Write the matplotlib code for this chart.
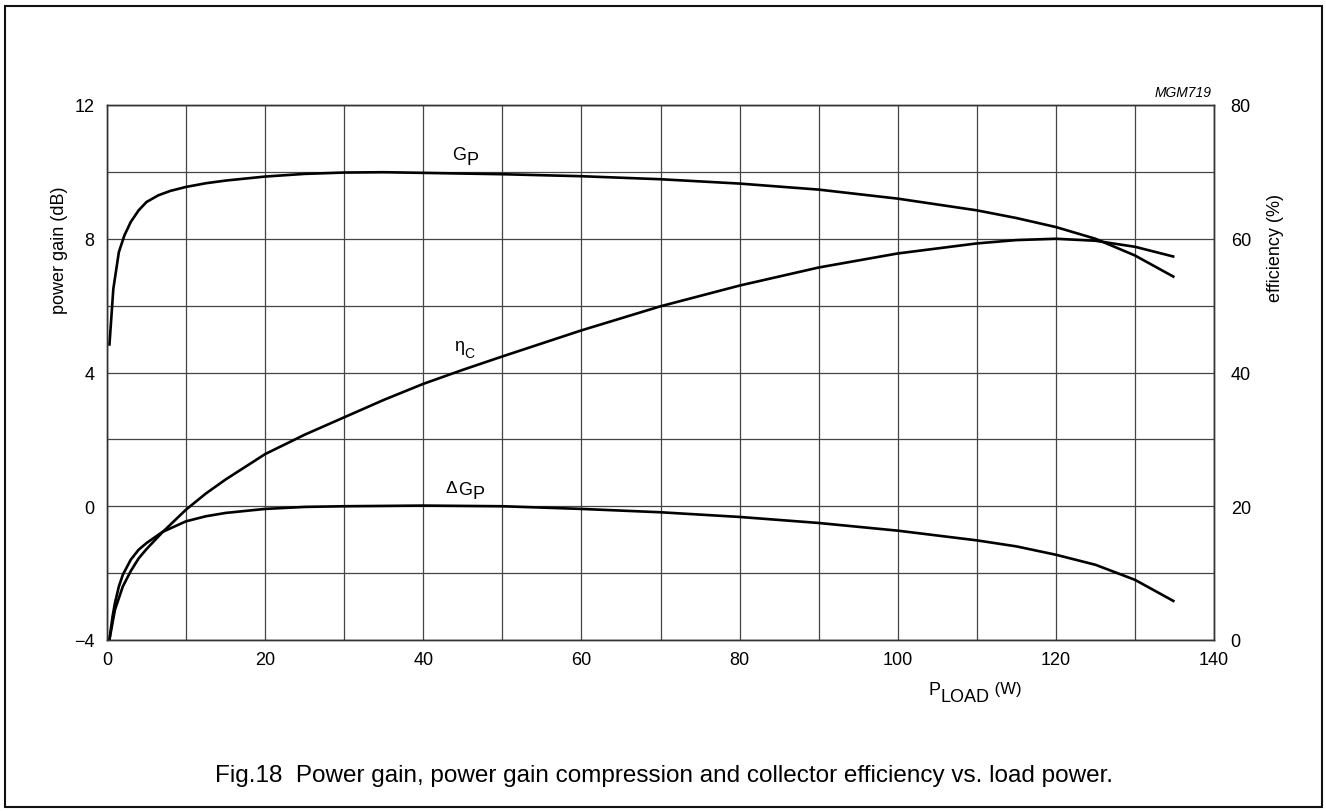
import matplotlib
matplotlib.use('Agg')
import matplotlib.pyplot as plt
from matplotlib.patches import Rectangle
from matplotlib.ticker import MultipleLocator
from matplotlib.transforms import IdentityTransform

plt.rcParams['font.family'] = ['Liberation Sans', 'DejaVu Sans']

# load power (W) and read-off values
p_gain = [0.3, 0.8, 1.5, 2.2, 3, 4, 5, 6.5, 8, 10, 12.5, 15, 20, 25, 30, 35, 40, 50, 60, 70,
          80, 90, 100, 110, 115, 120, 125, 130, 135]
gain_db = [4.8, 6.5, 7.6, 8.1, 8.5, 8.85, 9.1, 9.3, 9.43, 9.55, 9.66, 9.74, 9.86, 9.94, 9.98, 9.99,
           9.97, 9.93, 9.87, 9.78, 9.65, 9.47, 9.2, 8.85, 8.62, 8.35, 8.0, 7.5, 6.85]

p_eff = [0.3, 1, 2, 3, 4, 5, 7, 8.5, 10, 12.5, 15, 20, 25, 30, 35, 40, 45, 50, 60, 70, 80,
         90, 100, 110, 115, 120, 125, 130, 135]
eff_pct = [0, 4.5, 8.0, 10.3, 12.2, 13.6, 16.1, 17.8, 19.5, 21.9, 24.0, 27.8, 30.7, 33.3, 35.9,
           38.3, 40.4, 42.4, 46.3, 49.9, 53.0, 55.7, 57.8, 59.3, 59.8, 60.0, 59.7, 58.8, 57.3]

p_comp = [0.3, 0.7, 1, 1.5, 2, 3, 4, 5, 7, 10, 12.5, 15, 20, 25, 30, 40, 50, 60, 70, 80,
          90, 100, 110, 115, 120, 125, 130, 135]
comp_db = [-4.0, -3.3, -2.9, -2.4, -2.05, -1.6, -1.3, -1.1, -0.77, -0.45, -0.3, -0.2, -0.08,
           -0.02, 0.0, 0.02, 0.0, -0.08, -0.18, -0.32, -0.5, -0.73, -1.02, -1.2, -1.45, -1.75,
           -2.2, -2.85]

W, H = 1326, 812
fig = plt.figure(figsize=(W / 100, H / 100), dpi=100)
fig.patches.append(Rectangle((4.5 / W, 4.5 / H), 1317 / W, 801 / H, transform=fig.transFigure,
                             fill=False, ec='#111111', lw=1.5))

ax = fig.add_axes([107 / W, 1 - 641 / H, 1107 / W, 535 / H])
ax2 = ax.twinx()
ax.set_xlim(0, 140); ax.set_ylim(-4, 12); ax2.set_ylim(0, 80)
ax.xaxis.set_major_locator(MultipleLocator(20)); ax.xaxis.set_minor_locator(MultipleLocator(10))
ax.yaxis.set_major_locator(MultipleLocator(4)); ax.yaxis.set_minor_locator(MultipleLocator(2))
ax2.yaxis.set_major_locator(MultipleLocator(20))
ax.grid(True, which='both', color='#444444', lw=0.9)
ax.set_yticklabels(['\u22124' if t < 0 else str(int(t)) for t in ax.get_yticks()])
ax.tick_params(which='both', length=0, labelsize=13)
ax.tick_params(axis='x', pad=8)
ax.tick_params(axis='y', pad=9)
ax2.tick_params(length=0, labelsize=13, pad=12)
for a in (ax, ax2):
    for s in a.spines.values():
        s.set_color('#333333'); s.set_linewidth(1.0)

ax.plot(p_gain, gain_db, color='black', lw=1.9, solid_capstyle='butt')
ax.plot(p_comp, comp_db, color='black', lw=1.9, solid_capstyle='butt')
ax2.plot(p_eff, eff_pct, color='black', lw=1.9, solid_capstyle='butt')

renderer = fig.canvas.get_renderer()


def pieces(x_px, parts):
    # parts: (text, fontsize, baseline y in image pixels); placed left to right
    x = x_px
    for s, fs, yb in parts:
        t = fig.text(x, H - yb, s, fontsize=fs, ha='left', va='baseline',
                     transform=IdentityTransform())
        x = t.get_window_extent(renderer).x1 + 0.5


pieces(452, [('G', 13, 160), ('P', 13, 165)])
pieces(454, [('\u03b7', 13, 351), ('C', 10, 358)])
pieces(446, [('\u0394', 12.5, 493), ('G', 13, 495), ('P', 13, 499)])
pieces(928, [('P', 13, 695), ('LOAD', 13, 702), (' (W)', 12, 694)])

fig.text(59 / W, 1 - 250 / H, 'power gain (dB)', rotation=90, ha='center', va='center', fontsize=13)
fig.text(1275 / W, 1 - 248 / H, 'efficiency (%)', rotation=90, ha='center', va='center', fontsize=13)
fig.text(1212 / W, 1 - 93 / H, 'MGM719', ha='right', va='center', fontsize=10, style='italic')
fig.text(664 / W, 1 - 782 / H,
         'Fig.18  Power gain, power gain compression and collector efficiency vs. load power.',
         ha='center', va='baseline', fontsize=17.5)

fig.savefig('out.png', dpi=100)
